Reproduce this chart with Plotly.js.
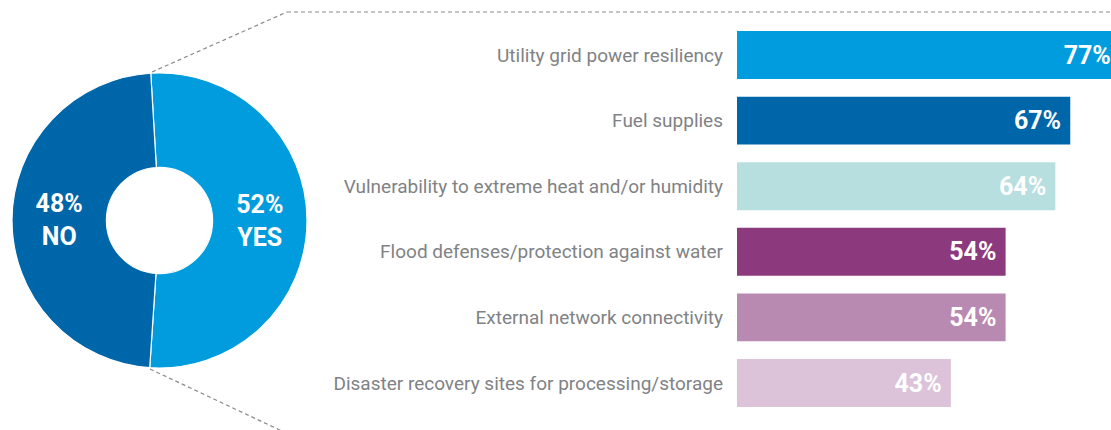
<!DOCTYPE html>
<html>
<head>
<meta charset="utf-8">
<script src="https://cdn.plot.ly/plotly-3.0.1.min.js"></script>
<style>
html,body{margin:0;padding:0;overflow:hidden;background:#fff;width:1111px;height:430px;}
#chart{width:1120px;height:430px;}
</style>
</head>
<body>
<div id="chart"></div>
<script>
// Donut data
const donutLabels = ["YES", "NO"];
const donutValues = [52, 48];
const donutColors = ["#009cde", "#0066aa"];

// Bar data
const barCategories = [
  "Utility grid power resiliency",
  "Fuel supplies",
  "Vulnerability to extreme heat and/or humidity",
  "Flood defenses/protection against water",
  "External network connectivity",
  "Disaster recovery sites for processing/storage"
];
const barValues = [77, 67, 64, 54, 54, 43];
const barColors = ["#009cde", "#0066aa", "#b8dfe0", "#8c3a7d", "#b98ab1", "#dcc3da"];

const W = 1120, H = 430;
const px = v => v / W;
const py = v => 1 - v / H;

const donut = {
  type: "pie",
  labels: donutLabels,
  values: donutValues,
  hole: 0.36,
  sort: false,
  direction: "clockwise",
  rotation: -3.4,
  marker: {colors: donutColors, line: {color: "#ffffff", width: 1.2}},
  texttemplate: "<b>%{value}%</b><br><b>%{label}</b>",
  textposition: "inside",
  insidetextorientation: "horizontal",
  insidetextfont: {family: "Roboto, sans-serif", size: 25, color: "#ffffff"},
  domain: {x: [px(12), px(307)], y: [py(368), py(73)]},
  showlegend: false,
  hoverinfo: "none"
};

const bars = {
  type: "bar",
  orientation: "h",
  y: barCategories,
  x: barValues,
  marker: {color: barColors},
  width: 0.73,
  texttemplate: "<b>%{x}%</b>\u00a0",
  textposition: "inside",
  insidetextanchor: "end",
  textfont: {family: "Roboto, sans-serif", size: 25, color: "#ffffff"},
  cliponaxis: false,
  xaxis: "x",
  yaxis: "y",
  hoverinfo: "none",
  showlegend: false
};

const layout = {
  width: W,
  height: H,
  margin: {l: 0, r: 0, t: 0, b: 0},
  paper_bgcolor: "#ffffff",
  plot_bgcolor: "#ffffff",
  font: {family: "Roboto, sans-serif"},
  xaxis: {
    domain: [px(737), 1],
    range: [0, 77],
    visible: false,
    fixedrange: true
  },
  yaxis: {
    domain: [py(415.8), py(22.2)],
    autorange: "reversed",
    showgrid: false,
    zeroline: false,
    showline: false,
    ticks: "",
    ticklabelstandoff: 13,
    tickfont: {family: "Roboto, sans-serif", size: 19, color: "#808285"},
    automargin: false,
    fixedrange: true
  },
  shapes: [
    {type: "line", xref: "paper", yref: "paper", x0: px(152), y0: py(72), x1: px(287), y1: py(12),
      line: {color: "#8a8a8a", width: 1.2, dash: "4px,3px"}},
    {type: "line", xref: "paper", yref: "paper", x0: px(287), y0: py(12), x1: 1, y1: py(12),
      line: {color: "#8a8a8a", width: 1.2, dash: "4px,3px"}},
    {type: "line", xref: "paper", yref: "paper", x0: px(150), y0: py(369), x1: px(284), y1: py(432),
      line: {color: "#8a8a8a", width: 1.2, dash: "4px,3px"}}
  ]
};

Plotly.newPlot("chart", [donut, bars], layout, {displayModeBar: false, staticPlot: true});
</script>
</body>
</html>
